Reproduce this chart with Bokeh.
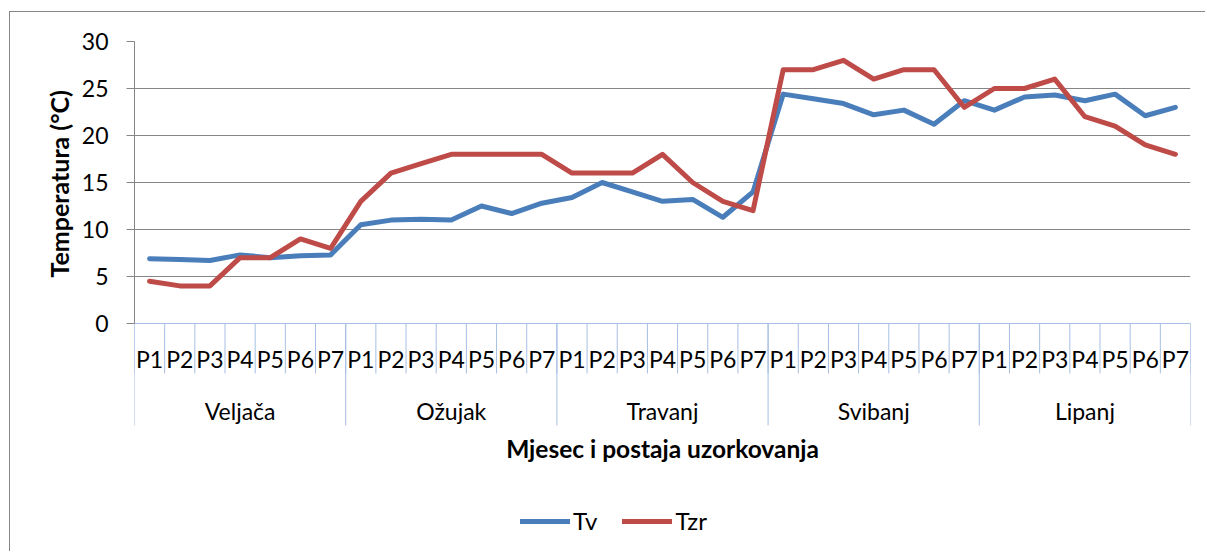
import math
from bokeh.plotting import figure
from bokeh.models import Range1d, FixedTicker, Title, Legend, LegendItem
from bokeh.core.properties import value
from bokeh.embed import file_html
from bokeh.resources import INLINE

# ---- data ----
months = ["Veljača", "Ožujak", "Travanj", "Svibanj", "Lipanj"]
stations = ["P1", "P2", "P3", "P4", "P5", "P6", "P7"]
tv = [6.9, 6.8, 6.7, 7.3, 7.0, 7.2, 7.3,
      10.5, 11.0, 11.1, 11.0, 12.5, 11.7, 12.8,
      13.4, 15.0, 14.0, 13.0, 13.2, 11.3, 14.0,
      24.4, 23.9, 23.4, 22.2, 22.7, 21.2, 23.7,
      22.7, 24.1, 24.3, 23.7, 24.4, 22.1, 23.0]
tzr = [4.5, 4.0, 4.0, 7.0, 7.0, 9.0, 8.0,
       13.0, 16.0, 17.0, 18.0, 18.0, 18.0, 18.0,
       16.0, 16.0, 16.0, 18.0, 15.0, 13.0, 12.0,
       27.0, 27.0, 28.0, 26.0, 27.0, 27.0, 23.0,
       25.0, 25.0, 26.0, 22.0, 21.0, 19.0, 18.0]
y_ticks = [0, 5, 10, 15, 20, 25, 30]
y_title = "Temperatura (°C)"
x_title = "Mjesec i postaja uzorkovanja"
series_names = ["Tv", "Tzr"]

# ---- layout (image pixel constants) ----
MX, MY = 9, 11           # css margin of the chart box
OX, OY = MX + 1, MY + 1  # canvas origin on the page (after 1px border)
W, H = 1196, 540
FL, FR, FT = 134, 1190, 41   # frame left / right / top
Y0PX = 323                   # pixel of y = 0
PXU = (Y0PX - FT) / 30.0     # pixels per y unit
FB = OY + H                  # frame bottom
ybot = 30 - (FB - FT) / PXU
n = len(months) * len(stations)
PXC = (FR - FL) / n

def ydat(py):
    return (Y0PX - py) / PXU

FONT = "Lato"
FS = "23px"

p = figure(width=W, height=H, x_range=Range1d(0, n), y_range=Range1d(ybot, 30),
           x_axis_type=None, output_backend="svg", toolbar_location=None,
           min_border_left=FL - OX, min_border_right=OX + W - FR,
           min_border_top=FT - OY, min_border_bottom=0)
p.outline_line_color = None
p.background_fill_color = "white"
p.border_fill_color = "white"
p.styles = {"border-left": "1px solid #878787", "border-top": "1px solid #878787",
            "margin-left": f"{MX}px", "margin-top": f"{MY}px"}

p.xgrid.visible = False
p.ygrid.ticker = FixedTicker(ticks=y_ticks)
p.ygrid.grid_line_color = "#868686"
p.ygrid.grid_line_width = 1

ax = p.yaxis[0]
ax.ticker = FixedTicker(ticks=y_ticks)
ax.bounds = (0, 30)
ax.axis_line_color = "#868686"
ax.major_tick_line_color = "#868686"
ax.major_tick_out = 8
ax.major_tick_in = 0
ax.minor_tick_line_color = None
ax.major_label_standoff = 18
ax.major_label_text_font = FONT
ax.major_label_text_font_size = FS
ax.major_label_text_color = "black"

# y-axis title (vertical, centred on the 0..30 span)
TITLE_LEN = 190  # approx rendered length of the y title in px
ytitle = Title(text=y_title, align="left",
               offset=FB - ((FT + Y0PX) / 2.0 + TITLE_LEN / 2.0),
               text_font=FONT, text_font_size="25px", text_font_style="bold",
               text_color="black", standoff=10)
p.add_layout(ytitle, "left")

# category axis drawn with glyphs
sep_color = "#A7BFE4"
xb = list(range(n + 1))
p.segment(x0=xb, y0=[0] * len(xb), x1=xb, y1=[ydat(373)] * len(xb),
          line_color=sep_color, line_width=1)
gb = list(range(0, n + 1, len(stations)))
p.segment(x0=gb, y0=[0] * len(gb), x1=gb, y1=[ydat(425)] * len(gb),
          line_color=sep_color, line_width=1)
p.segment(x0=[0], y0=[0], x1=[n], y1=[0], line_color=sep_color, line_width=1.2)

xc = [i + 0.5 for i in range(n)]
p.text(x=xc, y=[ydat(358)] * n, text=stations * len(months),
       text_font=value(FONT), text_font_size=FS, text_align="center",
       text_baseline="middle", text_color="black")
gc = [g * len(stations) + len(stations) / 2 for g in range(len(months))]
p.text(x=gc, y=[ydat(410)] * len(months), text=months,
       text_font=value(FONT), text_font_size=FS, text_align="center",
       text_baseline="middle", text_color="black")
p.text(x=[n / 2], y=[ydat(448)], text=[x_title],
       text_font=value(FONT), text_font_size="24.5px", text_font_style="bold",
       text_align="center", text_baseline="middle", text_color="black")

r1 = p.line(xc, tv, line_color="#4A7EBB", line_width=5, line_join="round", line_cap="round")
r2 = p.line(xc, tzr, line_color="#BE4B48", line_width=5, line_join="round", line_cap="round")

legend = Legend(items=[LegendItem(label=series_names[0], renderers=[r1]),
                       LegendItem(label=series_names[1], renderers=[r2])],
                orientation="horizontal", location=(386, 17),
                glyph_width=50, glyph_height=24, label_standoff=3, spacing=25,
                padding=2, margin=0, border_line_color=None,
                background_fill_alpha=0,
                label_text_font=FONT, label_text_font_size="24px", label_text_color="black")
p.add_layout(legend)

open("out.html", "w").write(file_html(p, INLINE))
